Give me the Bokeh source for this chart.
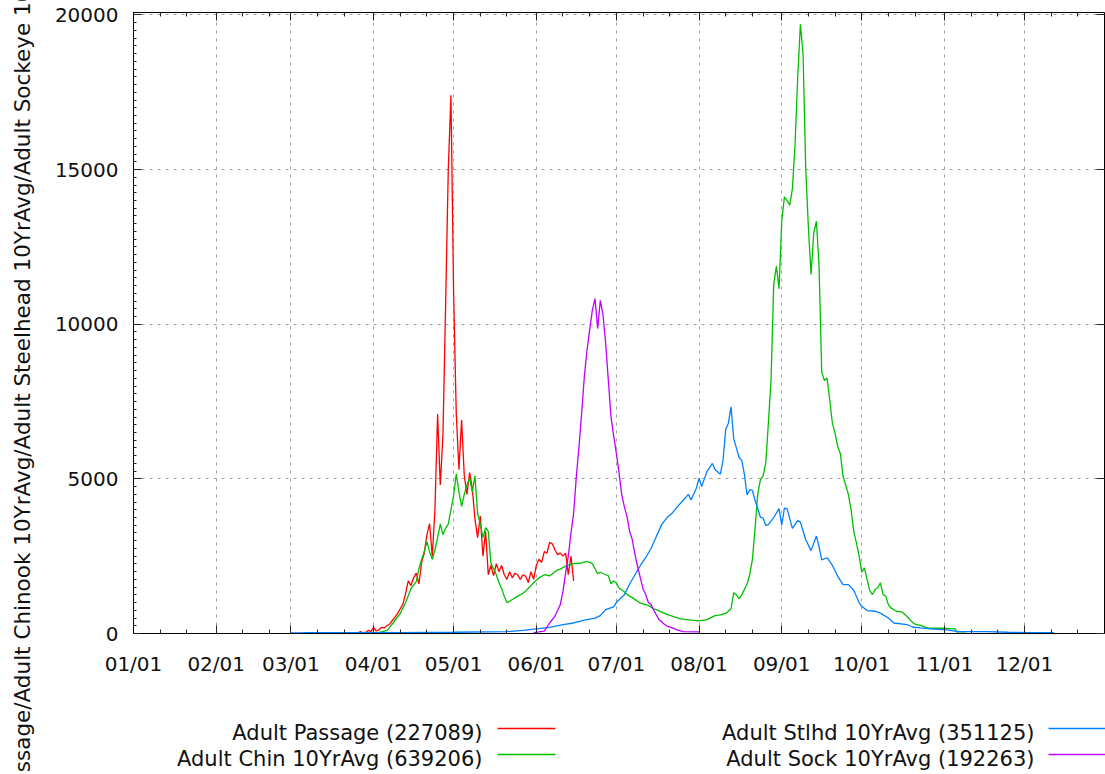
import math
from bokeh.plotting import figure
from bokeh.models import FixedTicker, LinearAxis, Range1d
from bokeh.embed import file_html
from bokeh.resources import INLINE
from bokeh.core.properties import value

# ---------------- data (day of year, 0 = Jan 1) ----------------
red_days = [84, 85, 86, 87, 88, 89, 90, 91, 92, 93, 94, 95, 96, 97, 98, 99, 100, 101, 102, 103,
            104, 105, 106, 107, 108, 109, 110, 111, 112, 113, 114, 115, 116, 117, 118, 119, 120,
            121, 122, 123, 124, 125, 126, 127, 128, 129, 130, 131, 132, 133, 134, 135, 136, 137,
            138, 139, 140, 141, 142, 143, 144, 145, 146, 147, 148, 149, 150, 151, 152, 153, 154,
            155, 156, 157, 158, 159, 160, 161, 162, 163, 164, 165]
red_vals = [0, 60, 20, 30, 100, 60, 190, 80, 120, 200, 180, 250, 300, 420, 520, 650, 800, 950, 1300, 1700,
            1550, 1800, 1950, 1600, 2300, 2600, 3200, 3550, 2500, 4000, 7100, 4800, 6400, 10600, 15000, 17400, 11000,
            7100, 5300, 6900, 5100, 4500, 5200, 4700, 3700, 3100, 3800, 2500, 3300, 1900, 2200, 1870, 2260, 2000,
            2200, 1900, 1750, 2000, 1800, 1950, 1900, 1750, 1900, 1850, 1650, 2000, 1750, 2200, 2400, 2300, 2650,
            2600, 2950, 2900, 2700, 2550, 2600, 2500, 2600, 1900, 2500, 1700]

green_days = [90, 93, 95, 96, 98, 100, 102, 104, 106, 107, 108, 109, 110, 111, 112, 113, 114, 115, 116,
              117, 118, 119, 120, 121, 122, 123, 124, 125, 126, 127, 128, 129, 130, 131, 132, 133, 134,
              135, 136, 137, 138, 139, 140, 141, 142, 143, 144, 146, 147, 149, 150, 152, 154, 156, 158,
              159, 160, 162, 165, 168, 170, 172, 173, 174, 175, 177, 178, 179, 180, 181, 182, 184, 186,
              187, 190, 193, 195, 196, 200, 205, 209, 212, 215, 218, 220, 222, 224, 225, 226, 227, 228,
              230, 231, 232, 233, 234, 235, 236, 237, 238, 239, 240, 241, 242, 243, 244, 245, 246, 247,
              248, 249, 250, 251, 252, 253, 254, 255, 256, 257, 258, 259, 260, 261, 262, 263, 264, 265,
              266, 267, 268, 269, 270, 271, 272, 273, 274, 275, 276, 277, 278, 279, 280, 281, 282, 283,
              284, 286, 288, 290, 292, 293, 295, 297, 298, 303, 308, 309, 312]
green_vals = [0, 50, 100, 190, 420, 650, 1000, 1450, 1680, 2100, 2390, 2650, 2970, 2640, 2400, 2700, 3100, 3540, 3200,
              3400, 3540, 4000, 4460, 5160, 4570, 4110, 4500, 4800, 5030, 4570, 5100, 3880, 3540, 3100, 3420, 3300, 2260,
              2100, 1900, 1650, 1450, 1200, 1000, 1040, 1100, 1150, 1200, 1300, 1370, 1550, 1640, 1800, 1900, 1860, 2000,
              2060, 2080, 2180, 2260, 2280, 2330, 2260, 2100, 1935, 1980, 1900, 1870, 1610, 1700, 1640, 1470, 1350, 1200,
              1160, 980, 910, 800, 770, 620, 470, 430, 410, 450, 580, 600, 650, 800, 1320, 1250, 1130, 1240,
              1600, 1900, 2390, 3400, 4500, 4970, 5100, 5500, 6800, 8200, 11300, 11880, 11150, 13330, 14120, 14000, 13850, 14380,
              15830, 18000, 19700, 18740, 15040, 13130, 11610, 12940, 13330, 11880, 8450, 8180, 8260, 7550, 6800, 6470, 6040, 5810,
              5070, 4800, 4490, 4000, 3300, 2930, 2510, 1980, 2120, 1740, 1390, 1260, 1420, 1480, 1640, 1260, 1210, 930,
              820, 720, 700, 550, 360, 300, 260, 200, 170, 170, 150, 20, 10]

blue_days = [59, 62, 66, 80, 100, 120, 140, 146, 151, 156, 161, 165, 169, 173, 175, 177, 180, 181, 184, 186,
             188, 190, 192, 194, 196, 198, 200, 202, 204, 206, 208, 209, 211, 212, 213, 214, 215, 217, 218,
             220, 221, 222, 223, 224, 225, 226, 227, 228, 229, 230, 231, 232, 233, 234, 235, 236, 237, 238,
             240, 242, 243, 244, 245, 247, 249, 250, 252, 254, 256, 257, 258, 260, 262, 264, 266, 268, 270,
             272, 273, 275, 278, 280, 283, 285, 290, 292, 295, 300, 305, 309, 320, 328, 336, 345]
blue_vals = [20, 20, 30, 30, 30, 40, 60, 100, 150, 200, 290, 340, 430, 500, 580, 770, 860, 1000, 1250, 1600,
             1900, 2200, 2450, 2750, 3140, 3520, 3750, 3900, 4110, 4300, 4500, 4320, 4700, 5020, 4750, 5000, 5240, 5500, 5300,
             5150, 5600, 6600, 6800, 7330, 6300, 6000, 5700, 5600, 5150, 4480, 4650, 4630, 4300, 4050, 3760, 3730, 3500, 3520,
             3750, 4040, 3500, 4050, 4040, 3400, 3650, 3600, 3030, 2680, 3150, 2800, 2380, 2450, 2200, 1850, 1580, 1580, 1400,
             1000, 880, 740, 720, 660, 500, 340, 290, 210, 180, 140, 120, 60, 60, 40, 30, 30]

mag_days = [150, 152, 154, 156, 158, 160, 161, 162, 163, 164, 165, 166, 167, 168, 169, 170, 171, 172, 173,
            174, 175, 176, 177, 178, 179, 180, 181, 182, 183, 184, 185, 186, 187, 188, 189, 190, 191, 192,
            193, 194, 196, 197, 199, 200, 202, 204, 206, 212]
mag_vals = [30, 50, 80, 340, 560, 935, 1370, 1960, 2500, 3250, 3890, 5070, 6040, 7120, 8300, 9160, 9810, 10450, 10830,
            9860, 10770, 10300, 9380, 8190, 7000, 6400, 5830, 5200, 4500, 4100, 3780, 3300, 3030, 2550, 2150, 1800, 1450, 1260,
            1000, 935, 600, 450, 300, 240, 180, 110, 60, 50]

series_labels = ["Adult Passage (227089)", "Adult Chin 10YrAvg (639206)",
                 "Adult Stlhd 10YrAvg (351125)", "Adult Sock 10YrAvg (192263)"]
series_colors = ["#ff0000", "#00c000", "#0080ff", "#c000ff"]

month_starts = [0, 31, 59, 90, 120, 151, 181, 212, 243, 273, 304, 334]
month_labels = ["01/01", "02/01", "03/01", "04/01", "05/01", "06/01",
                "07/01", "08/01", "09/01", "10/01", "11/01", "12/01"]
y_ticks = [0, 5000, 10000, 15000, 20000]
y_title = "Adult Passage/Adult Chinook 10YrAvg/Adult Steelhead 10YrAvg/Adult Sockeye 10YrAvg"

FONT = "DejaVu Sans"

# ---------------- layout (pixels) ----------------
W, H = 1105, 774
FL, FR, FT, FB = 133, 1104, 12, 633          # frame edges
X0, X1, Y0, Y1 = 0, 364, 0, 20080            # data ranges


def xd(px):
    return X0 + (X1 - X0) * (px - FL) / (FR - FL)


def yd(py):
    return Y0 + (Y1 - Y0) * (FB - py) / (FB - FT)


p = figure(width=W, height=H, x_range=Range1d(X0, X1), y_range=Range1d(Y0, Y1),
           output_backend="svg", toolbar_location=None,
           min_border_left=FL, min_border_right=W - FR, min_border_top=FT, min_border_bottom=H - FB)
p.background_fill_color = "white"
p.border_fill_color = "white"
p.outline_line_color = "black"
p.outline_line_width = 1

minor_x = sorted([m + 10 for m in month_starts] + [m + 20 for m in month_starts])
minor_y = list(range(0, 20001, 250))

xa = p.xaxis[0]
ya = p.yaxis[0]
xa.ticker = FixedTicker(ticks=month_starts, minor_ticks=minor_x)
ya.ticker = FixedTicker(ticks=y_ticks, minor_ticks=minor_y)
xa.major_label_overrides = {m: lab for m, lab in zip(month_starts, month_labels)}
for ax in (xa, ya):
    ax.major_tick_in = 8
    ax.major_tick_out = 0
    ax.minor_tick_in = 4
    ax.minor_tick_out = 0
    ax.axis_line_color = "black"
    ax.major_tick_line_color = "#222222"
    ax.minor_tick_line_color = "#222222"
    ax.major_label_text_font = FONT
    ax.major_label_text_font_size = "20px"
    ax.major_label_text_color = "#111111"
xa.major_label_standoff = 18
ya.major_label_standoff = 15
ya.minor_tick_in = 3

# mirrored ticks on top and right
top = LinearAxis(ticker=FixedTicker(ticks=month_starts, minor_ticks=minor_x),
                 major_label_text_font_size="0px", major_label_standoff=0,
                 major_label_overrides={m: "" for m in month_starts},
                 major_tick_in=8, major_tick_out=0, minor_tick_in=4, minor_tick_out=0,
                 axis_line_color=None, major_tick_line_color="#222222", minor_tick_line_color="#222222")
right = LinearAxis(ticker=FixedTicker(ticks=y_ticks),
                   major_label_text_font_size="0px", major_label_standoff=0,
                   major_label_overrides={t: "" for t in y_ticks},
                   major_tick_in=8, major_tick_out=0, minor_tick_in=0, minor_tick_out=0,
                   axis_line_color=None, major_tick_line_color="#222222")
p.add_layout(top, "above")
p.add_layout(right, "right")

p.xgrid.ticker = FixedTicker(ticks=month_starts)
p.ygrid.ticker = FixedTicker(ticks=y_ticks)
p.grid.grid_line_color = "#a0a0a0"
p.grid.grid_line_dash = "3 5"
p.grid.grid_line_width = 1

# series
for d, v, c in [(red_days, red_vals, series_colors[0]),
                (green_days, green_vals, series_colors[1]),
                (blue_days, blue_vals, series_colors[2]),
                (mag_days, mag_vals, series_colors[3])]:
    p.line(d, v, line_color=c, line_width=1.3)

# y title: rotated, centred below the frame middle, overflowing the page like the original
p.text(x=[xd(22)], y=[yd(393)], text=[y_title], angle=math.pi / 2,
       text_align="center", text_baseline="middle", text_font=value(FONT),
       text_font_size="21.5px", text_color="#111111", level="overlay")

# legend: text right-aligned, then a line sample; two columns, two rows
text_right_px = [482, 482, 1034, 1034]
baseline_px = [732, 758, 732, 758]
line_px = [(497, 555, 728), (497, 555, 754), (1048, 1106, 728), (1048, 1106, 754)]
p.text(x=[xd(v) for v in text_right_px], y=[yd(v) for v in baseline_px], text=series_labels,
       text_align="right", text_baseline="alphabetic", text_font=value(FONT),
       text_font_size="21px", text_color="#111111", level="overlay")
p.segment(x0=[xd(a) for a, b, c in line_px], y0=[yd(c) for a, b, c in line_px],
          x1=[xd(b) for a, b, c in line_px], y1=[yd(c) for a, b, c in line_px],
          line_color=series_colors, line_width=1.3, level="overlay")

open("out.html", "w").write(file_html(p, INLINE))
